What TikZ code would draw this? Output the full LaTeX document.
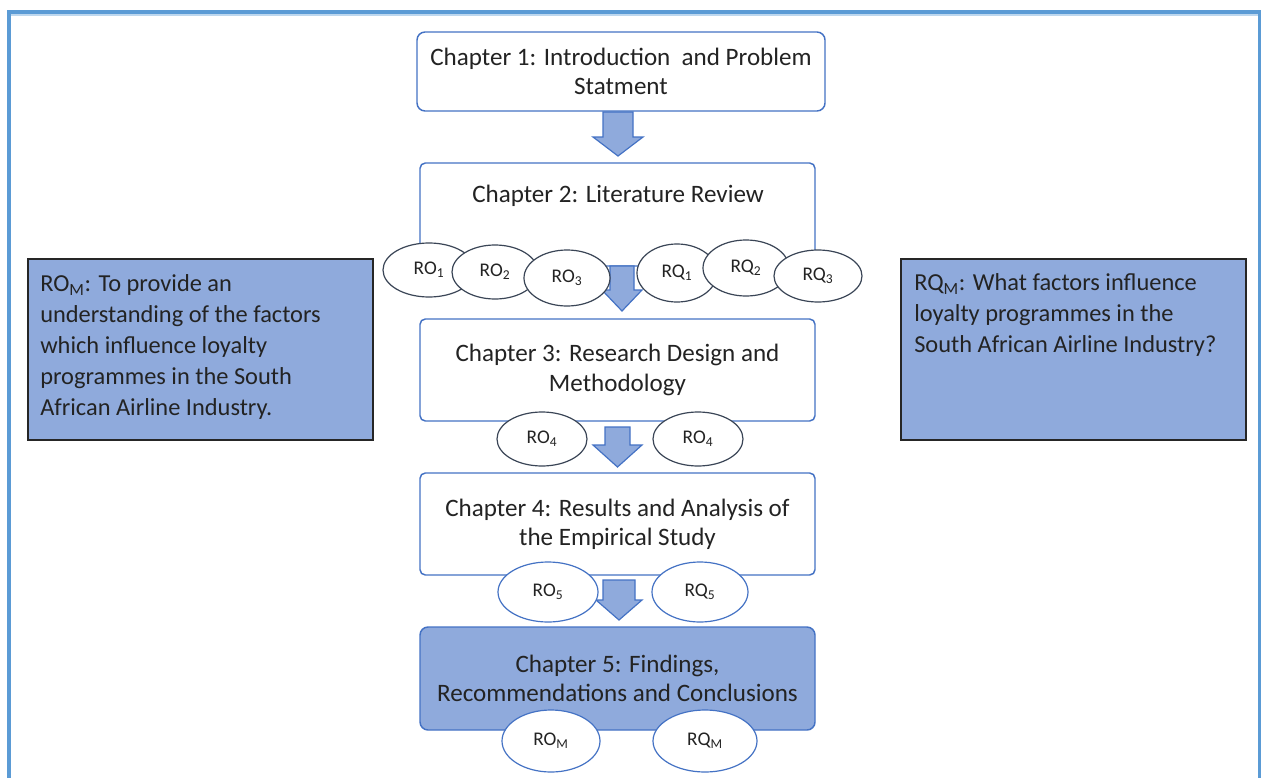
\documentclass[tikz,border=0pt]{standalone}
\usepackage{fontspec}
\setmainfont{Carlito}
\usetikzlibrary{shapes.geometric}

\definecolor{frameblue}{HTML}{5B9BD5}
\definecolor{framelight}{HTML}{BDD7EE}
\definecolor{edgeblue}{HTML}{4472C4}
\definecolor{fillblue}{HTML}{8FAADC}
\definecolor{ovalgrey}{HTML}{3A4556}
\definecolor{inktext}{HTML}{232323}

\newcommand{\chaptersize}{\fontsize{18.8}{21.9}\selectfont}
\newcommand{\sidesize}{\fontsize{18.3}{23.3}\selectfont}
\newcommand{\ovalsize}{\fontsize{14.5}{16}\selectfont}

% block arrow pointing down: centre x, shaft half width, head half width,
% top of shaft, start of head, tip
\newcommand{\blockdown}[6]{%
  \filldraw[downarrow] (#1-#2,#4) -- (#1+#2,#4) -- (#1+#2,#5) -- (#1+#3,#5)
    -- (#1,#6) -- (#1-#3,#5) -- (#1-#2,#5) -- cycle;}

\tikzset{
  chapbox/.style={draw=edgeblue, line width=1.1pt, fill=white, rounded corners=4pt,
    inner sep=0pt, font=\chaptersize, text=inktext, align=center},
  sidebox/.style={draw=black!85, line width=1.1pt, fill=fillblue, inner sep=0pt},
  sidetext/.style={font=\sidesize, text=inktext, align=left, inner sep=0pt, anchor=north west},
  oval/.style={ellipse, draw=ovalgrey, line width=0.9pt, fill=white, inner sep=0pt,
    font=\ovalsize, text=inktext},
  blueoval/.style={oval, draw=edgeblue},
  downarrow/.style={fill=fillblue, draw=edgeblue, line width=0.9pt, line join=miter},
}

\begin{document}
\begin{tikzpicture}[x=0.75pt, y=-0.75pt]
\useasboundingbox (0,0) rectangle (1261,778);

% page frame
\draw[framelight, line width=1.1pt] (11,14.8) -- (1258,14.8);
\draw[frameblue, line width=2.9pt] (9,778) -- (9,12) -- (1259.6,12) -- (1259.6,778);

% objective and question boxes
\node[sidebox, minimum width=258.75pt, minimum height=135.75pt] (objbox) at (200.5,349.5) {};
\node[sidetext] (objtext) at (40,274.5)
  {RO\textsubscript{M}: To provide an\\understanding of the factors\\which influence loyalty\\programmes in the South\\African Airline Industry.};
\node[sidebox, minimum width=258.75pt, minimum height=135.75pt] (qbox) at (1073.5,349.5) {};
\node[sidetext] (qtext) at (914,273.5)
  {RQ\textsubscript{M}: What factors influence\\loyalty programmes in the\\South African Airline Industry?};

% chapter boxes
\node[chapbox, rounded corners=6pt, minimum width=306pt, minimum height=59.25pt] (ch1) at (621,71.5)
  {Chapter 1: Introduction\ \ and Problem\\Statment};
\node[chapbox, minimum width=296.25pt, minimum height=77.25pt] (ch2) at (617.5,214.5) {};
\node[font=\chaptersize, text=inktext, inner sep=0pt] (ch2text) at (618,196) {Chapter 2: Literature Review};
\node[chapbox, minimum width=296.25pt, minimum height=76.5pt] (ch3) at (617.5,370)
  {Chapter 3: Research Design and\\Methodology};
\node[chapbox, minimum width=296.25pt, minimum height=76.5pt] (ch4) at (617.5,524)
  {Chapter 4: Results and Analysis of\\the Empirical Study};
\node[chapbox, rounded corners=6pt, fill=fillblue, minimum width=296.25pt, minimum height=77.25pt] (ch5) at (617.5,678.5)
  {Chapter 5: Findings,\\Recommendations and Conclusions};

% arrows between chapters
\blockdown{618}{15}{25}{112}{137}{156}
\blockdown{622}{12}{20}{266}{290}{311}
\blockdown{617.5}{12.5}{24.5}{427}{445}{467}
\blockdown{619}{16}{23}{580}{600}{620}

% objectives and questions per chapter
\node[oval, minimum width=69pt, minimum height=40.5pt] (ro1) at (429,270) {RO\textsubscript{1}};
\node[oval, minimum width=64.5pt, minimum height=40.5pt] (ro2) at (495,272) {RO\textsubscript{2}};
\node[oval, minimum width=64.5pt, minimum height=42pt] (ro3) at (567,278) {RO\textsubscript{3}};
\node[oval, minimum width=60pt, minimum height=43.5pt] (rq1) at (677,273) {RQ\textsubscript{1}};
\node[oval, minimum width=64.5pt, minimum height=42pt] (rq2) at (746,268) {RQ\textsubscript{2}};
\node[oval, minimum width=66pt, minimum height=39pt] (rq3) at (818,276) {RQ\textsubscript{3}};

\node[oval, minimum width=67.5pt, minimum height=40.5pt] (ro4a) at (542,439) {RO\textsubscript{4}};
\node[oval, minimum width=67.5pt, minimum height=40.5pt] (ro4b) at (698,439) {RO\textsubscript{4}};

\node[blueoval, minimum width=75pt, minimum height=45pt] (ro5) at (548,592) {RO\textsubscript{5}};
\node[blueoval, minimum width=72pt, minimum height=45pt] (rq5) at (700,592) {RQ\textsubscript{5}};

\node[blueoval, minimum width=73.5pt, minimum height=46.5pt] (rom) at (551,741) {RO\textsubscript{M}};
\node[blueoval, minimum width=78pt, minimum height=46.5pt] (rqm) at (705,741) {RQ\textsubscript{M}};
\end{tikzpicture}
\end{document}
